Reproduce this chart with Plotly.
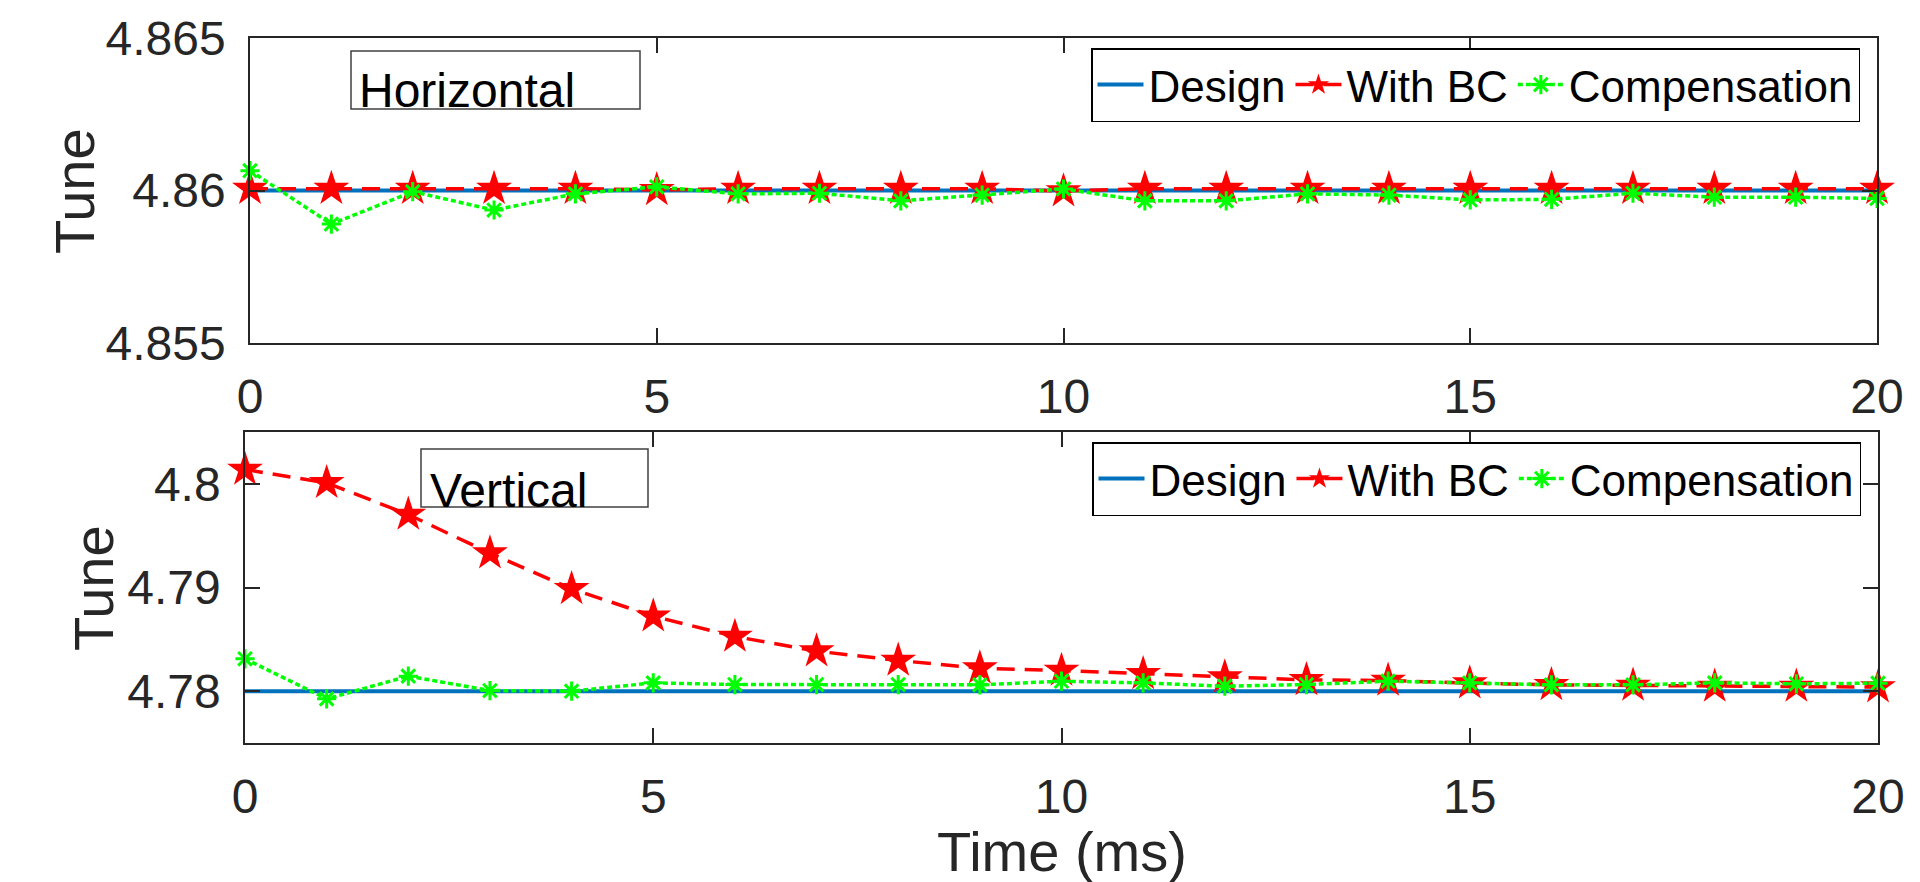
import plotly.graph_objects as go

# time axis (ms)
time_ms = [0, 1, 2, 3, 4, 5, 6, 7, 8, 9, 10, 11, 12, 13, 14, 15, 16, 17, 18, 19, 20]

# horizontal tune
h_design = [4.86, 4.86, 4.86, 4.86, 4.86, 4.86, 4.86, 4.86, 4.86, 4.86, 4.86,
            4.86, 4.86, 4.86, 4.86, 4.86, 4.86, 4.86, 4.86, 4.86, 4.86]
h_with_bc = [4.86006, 4.86006, 4.86006, 4.86006, 4.86006, 4.86002, 4.86006, 4.86006, 4.86006, 4.86006, 4.85998,
             4.86006, 4.86006, 4.86006, 4.86006, 4.86006, 4.86006, 4.86006, 4.86006, 4.86006, 4.86006]
h_comp = [4.86065, 4.8589, 4.85996, 4.85936, 4.85989, 4.86012, 4.85989, 4.85991, 4.85966, 4.85985, 4.86005,
          4.85966, 4.85966, 4.85989, 4.85985, 4.85969, 4.85971, 4.85991, 4.85978, 4.85978, 4.85974]

# vertical tune
v_design = [4.78, 4.78, 4.78, 4.78, 4.78, 4.78, 4.78, 4.78, 4.78, 4.78, 4.78,
            4.78, 4.78, 4.78, 4.78, 4.78, 4.78, 4.78, 4.78, 4.78, 4.78]
v_with_bc = [4.80138, 4.8001, 4.79704, 4.79331, 4.78987, 4.78723, 4.78527, 4.78386, 4.78296, 4.78222, 4.78199,
             4.78167, 4.78135, 4.78109, 4.78103, 4.78077, 4.78061, 4.78055, 4.78045, 4.78045, 4.78039]
v_comp = [4.78312, 4.77926, 4.78145, 4.78006, 4.78, 4.7808, 4.78064, 4.78064, 4.78064, 4.78061, 4.78096,
          4.7808, 4.78048, 4.78064, 4.78096, 4.7808, 4.78061, 4.78061, 4.7808, 4.78071, 4.78077]

series_names = ["Design", "With BC", "Compensation"]
h_ticks = [4.855, 4.86, 4.865]
h_ticktext = ["4.855", "4.86", "4.865"]
v_ticks = [4.78, 4.79, 4.8]
v_ticktext = ["4.78", "4.79", "4.8"]
x_ticks = [0, 5, 10, 15, 20]

# the page body has an 8px margin, so the figure is made 8px smaller
OFF = 8
W, H = 1920 - OFF, 882 - OFF
FONT = "Arial, Liberation Sans, sans-serif"
AX = "#262626"


def px(x):
    # screen pixel -> paper fraction
    return (x - OFF) / W


def py(y):
    return (H - (y - OFF)) / H


fig = go.Figure()

panels = [("x", "y", "legend", h_design, h_with_bc, h_comp),
          ("x2", "y2", "legend2", v_design, v_with_bc, v_comp)]
for xa, ya, lg, d, bc, cp in panels:
    fig.add_trace(go.Scatter(x=time_ms, y=d, name=series_names[0], mode="lines",
                             line=dict(color="#0072BD", width=4),
                             xaxis=xa, yaxis=ya, legend=lg, cliponaxis=False))
    fig.add_trace(go.Scatter(x=time_ms, y=bc, name=series_names[1], mode="lines+markers",
                             line=dict(color="#FF0000", width=3.5, dash="18px,10px"),
                             marker=dict(symbol="star", size=27, color="#FF0000",
                                         line=dict(width=0)),
                             xaxis=xa, yaxis=ya, legend=lg, cliponaxis=False))
    fig.add_trace(go.Scatter(x=time_ms, y=cp, name=series_names[2], mode="lines+markers",
                             line=dict(color="#00FF00", width=3.5, dash="5px,3px"),
                             marker=dict(symbol="asterisk", size=16, color="#00FF00",
                                         line=dict(width=3, color="#00FF00")),
                             xaxis=xa, yaxis=ya, legend=lg, cliponaxis=False))

axis_common = dict(showline=True, linecolor=AX, linewidth=1.5, mirror="ticks",
                   ticks="inside", ticklen=15, tickwidth=1.5, tickcolor=AX,
                   showgrid=False, zeroline=False, automargin=False,
                   tickfont=dict(family=FONT, size=48, color=AX))

legend_common = dict(orientation="h", xanchor="right", yanchor="middle",
                     bgcolor="white", bordercolor="#000000", borderwidth=1.5,
                     font=dict(family=FONT, size=44, color="black"), itemwidth=46,
                     tracegroupgap=0)

fig.update_layout(
    width=W, height=H,
    margin=dict(l=0, r=0, t=0, b=0, autoexpand=False),
    paper_bgcolor="white", plot_bgcolor="white",
    xaxis=dict(axis_common, domain=[px(250), px(1877)], range=[0, 20],
               tickvals=x_ticks, anchor="y", ticklabelstandoff=11),
    yaxis=dict(axis_common, domain=[py(343), py(38)], range=[4.855, 4.865],
               tickvals=h_ticks, ticktext=h_ticktext, anchor="x", ticklabelstandoff=13),
    xaxis2=dict(axis_common, domain=[px(245), px(1878)], range=[0, 20],
                tickvals=x_ticks, anchor="y2", ticklabelstandoff=11),
    yaxis2=dict(axis_common, domain=[py(743), py(432)], range=[4.775, 4.805],
                tickvals=v_ticks, ticktext=v_ticktext, anchor="x2", ticklabelstandoff=13),
    legend=dict(legend_common, x=px(1860), y=py(85)),
    legend2=dict(legend_common, x=px(1861), y=py(479)),
    showlegend=True,
)

# panel label boxes
fig.add_shape(type="rect", xref="paper", yref="paper",
              x0=px(351), x1=px(640), y0=py(109), y1=py(51),
              line=dict(color="#404040", width=1.5), fillcolor="white", layer="above")
fig.add_shape(type="rect", xref="paper", yref="paper",
              x0=px(421), x1=px(648), y0=py(507), y1=py(449),
              line=dict(color="#404040", width=1.5), fillcolor="white", layer="above")
fig.add_annotation(text="Horizontal", xref="paper", yref="paper", x=px(357), y=py(119),
                   xanchor="left", yanchor="bottom", showarrow=False,
                   font=dict(family=FONT, size=48, color="black"))
fig.add_annotation(text="Vertical", xref="paper", yref="paper", x=px(428), y=py(519),
                   xanchor="left", yanchor="bottom", showarrow=False,
                   font=dict(family=FONT, size=48, color="black"))

# axis titles
fig.add_annotation(text="Tune", xref="paper", yref="paper", x=px(74), y=py(191),
                   xanchor="center", yanchor="middle", textangle=-90, showarrow=False,
                   font=dict(family=FONT, size=56, color=AX))
fig.add_annotation(text="Tune", xref="paper", yref="paper", x=px(93), y=py(588),
                   xanchor="center", yanchor="middle", textangle=-90, showarrow=False,
                   font=dict(family=FONT, size=56, color=AX))
fig.add_annotation(text="Time (ms)", xref="paper", yref="paper", x=px(1062), y=py(851),
                   xanchor="center", yanchor="middle", showarrow=False,
                   font=dict(family=FONT, size=56, color=AX))

fig.write_html("out.html")
